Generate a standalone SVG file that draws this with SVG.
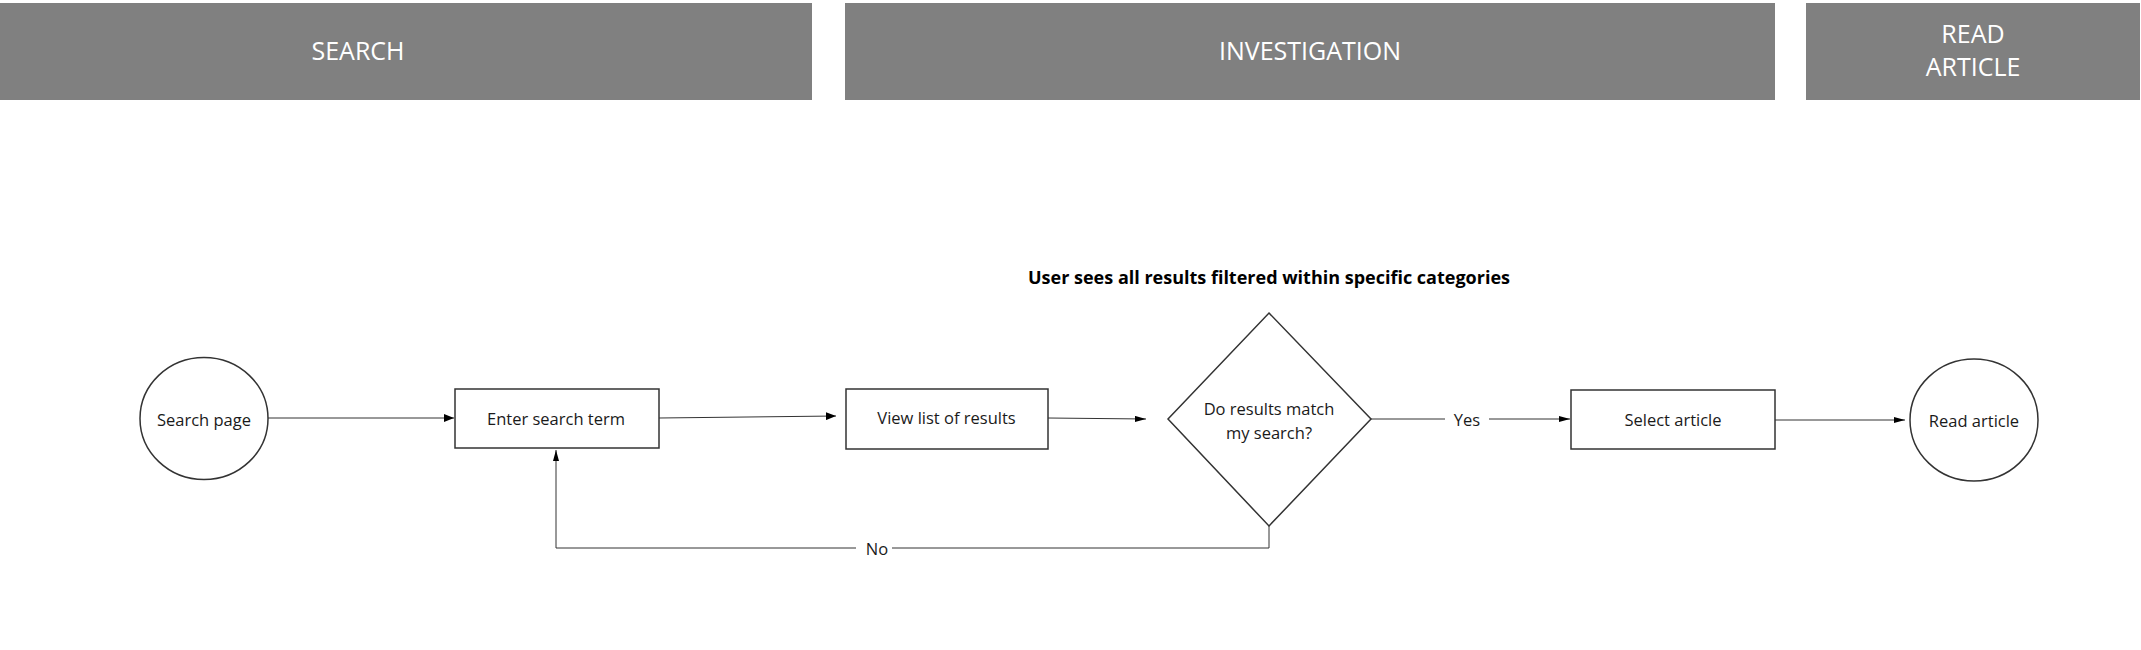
<svg xmlns="http://www.w3.org/2000/svg" width="2141" height="650" viewBox="0 0 2141 650">
<style>
.bar{fill:#808080}
.bartxt{font-family:"Open Sans","Liberation Sans",sans-serif;font-size:25px;fill:#ffffff;text-anchor:middle;dominant-baseline:central}
.node{fill:#ffffff;stroke:#333333;stroke-width:1.5}
.txt{font-family:"Open Sans","Liberation Sans",sans-serif;font-size:16.5px;fill:#1a1a1a;text-anchor:middle;dominant-baseline:central}
.title{font-family:"Open Sans","Liberation Sans",sans-serif;font-size:18px;font-weight:bold;fill:#000000;text-anchor:middle;dominant-baseline:central}
.conn{fill:none;stroke:#333333;stroke-width:1}
.lbl{font-family:"Open Sans","Liberation Sans",sans-serif;font-size:16.5px;fill:#1a1a1a;text-anchor:middle;dominant-baseline:central}
.lblbg{fill:#ffffff}
</style>
<defs>
<marker id="big" viewBox="0 0 10 8" refX="10" refY="4" markerWidth="10" markerHeight="8" markerUnits="userSpaceOnUse" orient="auto">
<path d="M0,0 L10,4 L0,8 z" fill="#000000"/>
</marker>
<marker id="thin" viewBox="0 0 11 6" refX="11" refY="3" markerWidth="11" markerHeight="6" markerUnits="userSpaceOnUse" orient="auto">
<path d="M0,0 L11,3 L0,6 z" fill="#000000"/>
</marker>
</defs>
<g id="lane-search">
<rect class="bar" x="0" y="3" width="812" height="97"/>
<text class="bartxt" x="358" y="50">SEARCH</text>
</g>
<g id="lane-investigation">
<rect class="bar" x="845" y="3" width="930" height="97"/>
<text class="bartxt" x="1310" y="50">INVESTIGATION</text>
</g>
<g id="lane-read">
<rect class="bar" x="1806" y="3" width="334" height="97"/>
<text class="bartxt" x="1973" y="33">READ</text>
<text class="bartxt" x="1973" y="66">ARTICLE</text>
</g>
<g id="title">
<text class="title" x="1269" y="277">User sees all results filtered within specific categories</text>
</g>
<g id="connectors">
<line class="conn" x1="268" y1="418" x2="454" y2="418" marker-end="url(#big)"/>
<line class="conn" x1="659" y1="418" x2="836" y2="416" marker-end="url(#big)"/>
<line class="conn" x1="1048" y1="418" x2="1146" y2="419" marker-end="url(#thin)"/>
<line class="conn" x1="1371" y1="419" x2="1570" y2="419" marker-end="url(#thin)"/>
<line class="conn" x1="1775" y1="420" x2="1905" y2="420" marker-end="url(#thin)"/>
<polyline class="conn" points="1269,526 1269,548 556,548 556,450" marker-end="url(#thin)"/>
<rect class="lblbg" x="1445" y="407" width="44" height="24"/>
<text class="lbl" x="1467" y="419">Yes</text>
<rect class="lblbg" x="856" y="536" width="36" height="24"/>
<text class="lbl" x="877" y="548">No</text>
</g>
<g id="search-page">
<ellipse class="node" cx="204" cy="418.5" rx="64" ry="61"/>
<text class="txt" x="204" y="419">Search page</text>
</g>
<g id="enter-search-term">
<rect class="node" x="455" y="389" width="204" height="59"/>
<text class="txt" x="556" y="418">Enter search term</text>
</g>
<g id="view-list">
<rect class="node" x="846" y="389" width="202" height="60"/>
<text class="txt" x="946.5" y="417">View list of results</text>
</g>
<g id="decision">
<polygon class="node" points="1269,313 1371,419 1269,526 1168,419"/>
<text class="txt" x="1269" y="408">Do results match</text>
<text class="txt" x="1269" y="432">my search?</text>
</g>
<g id="select-article">
<rect class="node" x="1571" y="390" width="204" height="59"/>
<text class="txt" x="1673" y="419">Select article</text>
</g>
<g id="read-article">
<ellipse class="node" cx="1974" cy="420" rx="64" ry="61"/>
<text class="txt" x="1974" y="420">Read article</text>
</g>
</svg>
